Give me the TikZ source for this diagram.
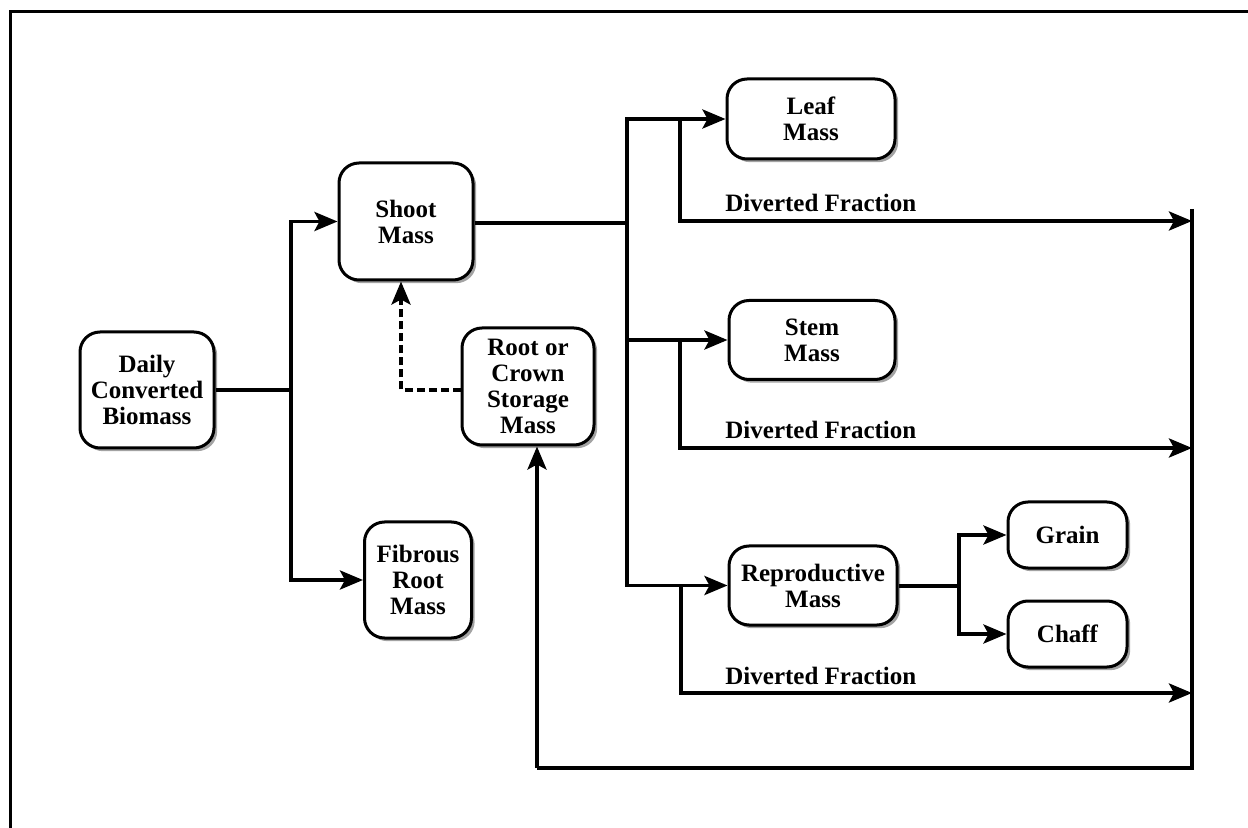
\documentclass[tikz,border=0pt]{standalone}
\usepackage{fontspec}
\setmainfont{Liberation Serif}
\usetikzlibrary{arrows.meta,shadows}
\begin{document}
\begin{tikzpicture}[x=0.5pt,y=-0.5pt,
  box/.style={draw,line width=1.5pt,rounded corners=10pt,fill=white,align=center,
    font=\fontsize{12.5}{13}\selectfont\bfseries,inner sep=2pt,
    drop shadow={shadow xshift=1.6pt,shadow yshift=-1.6pt,fill=black!45,opacity=0.8}},
  conn/.style={line width=1.9pt},
  arr/.style={conn,-{Stealth[length=11.5pt,width=9.5pt,inset=2.5pt]}},
  dasharr/.style={arr,dash pattern=on 4pt off 2pt},
  lbl/.style={font=\fontsize{12.5}{13}\selectfont\bfseries,anchor=base west,inner sep=0pt}]
\useasboundingbox (0,0) rectangle (1248,828);
\draw[line width=1.5pt] (10,840) -- (10,12) -- (1260,12);

\node[box,minimum width=67pt,minimum height=58pt] (daily) at (147,390) {Daily\\Converted\\Biomass};
\node[box,minimum width=67pt,minimum height=58.5pt] (shoot) at (406,221.5) {Shoot\\Mass};
\node[box,minimum width=53.5pt,minimum height=58pt] (fibrous) at (418,580) {Fibrous\\Root\\Mass};
\node[box,minimum width=66pt,minimum height=58.5pt] (root) at (528,386.5) {Root or\\Crown\\Storage\\Mass};
\node[box,minimum width=84pt,minimum height=40pt] (leaf) at (811,119) {Leaf\\Mass};
\node[box,minimum width=83pt,minimum height=39.5pt] (stem) at (812,340) {Stem\\Mass};
\node[box,minimum width=84pt,minimum height=39.5pt] (repro) at (813,585.5) {Reproductive\\Mass};
\node[box,minimum width=59.5pt,minimum height=33pt] (grain) at (1067.5,535) {Grain};
\node[box,minimum width=59.5pt,minimum height=33pt] (chaff) at (1067.5,634) {Chaff};

% daily -> shoot / fibrous
\coordinate (j1) at (291,390);
\draw[conn] (daily.east) -- (j1);
\draw[arr] (j1) |- (shoot.west);
\draw[arr] (j1) |- (fibrous.west);

% shoot -> leaf / stem / repro
\coordinate (j2) at (627,223);
\draw[conn] (shoot.east |- j2) -- (j2);
\draw[arr] (j2) |- (leaf.west);
\draw[arr] (j2) |- (stem.west);
\draw[arr] (j2) |- (repro.west);

% diverted fractions
\coordinate (d1) at (680,119);
\coordinate (e1) at (1192,221);
\draw[arr] (d1) |- (e1);
\node[lbl] (t1) at (725,212) {Diverted Fraction};
\coordinate (d2) at (680,340);
\coordinate (e2) at (1192,448);
\draw[arr] (d2) |- (e2);
\node[lbl] (t2) at (725,439) {Diverted Fraction};
\coordinate (d3) at (681,586);
\coordinate (e3) at (1192,693);
\draw[arr] (d3) |- (e3);
\node[lbl] (t3) at (725,684) {Diverted Fraction};

% collecting bus back to root storage
\coordinate (b0) at (1192,209);
\coordinate (b1) at (1192,768);
\coordinate (b2) at (537,768);
\draw[conn] (b0) -- (b1) -- (b2);
\draw[arr] (b2) -- (b2 |- root.south);

% dashed: root storage -> shoot
\coordinate (dj) at (401,390);
\draw[dasharr] (root.west |- dj) -- (dj) -- (dj |- shoot.south);

% repro -> grain / chaff
\coordinate (j3) at (959,586);
\draw[conn] (repro.east |- j3) -- (j3);
\draw[arr] (j3) |- (grain.west);
\draw[arr] (j3) |- (chaff.west);
\end{tikzpicture}
\end{document}
